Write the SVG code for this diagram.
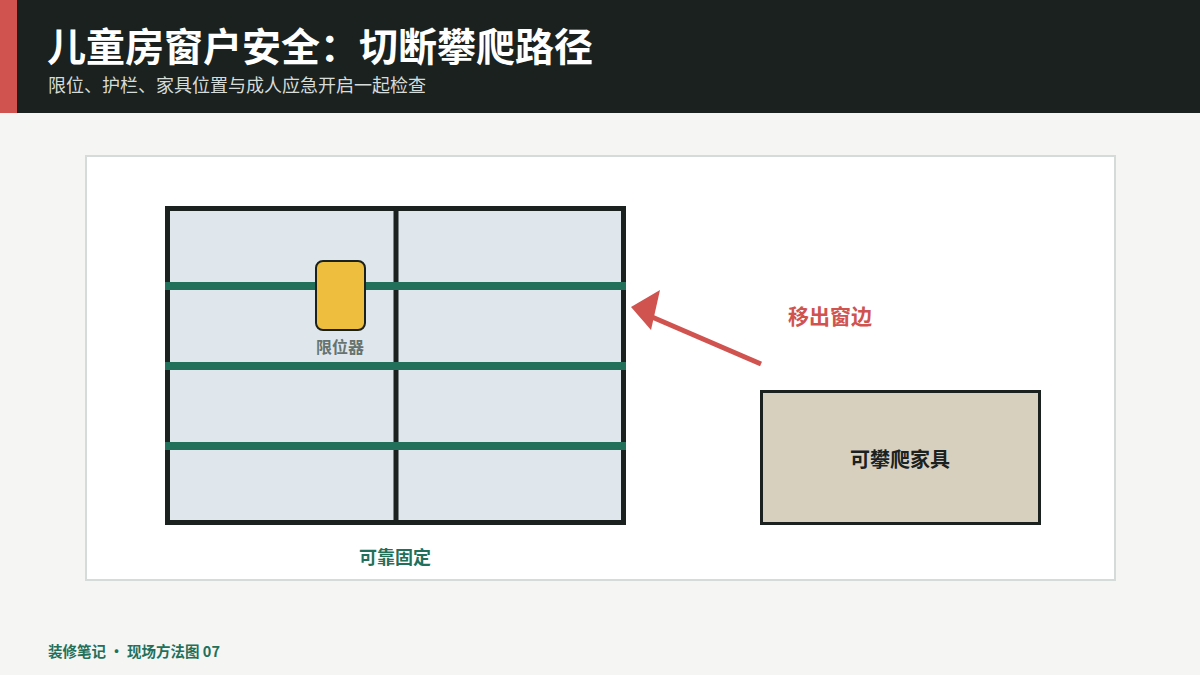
<svg xmlns="http://www.w3.org/2000/svg" width="1200" height="675" viewBox="0 0 1200 675">
<style>
.cjk{font-family:"Noto Sans CJK SC","Noto Sans",sans-serif;}
.b{font-weight:700;}
.bar{fill:#23705a;}
</style>
<rect width="1200" height="675" fill="#f5f5f3"/>
<g id="header">
<rect x="0" y="0" width="1200" height="113" fill="#1a211f"/>
<rect x="0" y="0" width="17" height="113" fill="#d0534f"/>
<text x="47" y="61" class="cjk b" font-size="39" fill="#ffffff">儿童房窗户安全：切断攀爬路径</text>
<text x="48" y="92" class="cjk" font-size="18" fill="#d6dcd9">限位、护栏、家具位置与成人应急开启一起检查</text>
</g>
<rect x="86" y="156" width="1029" height="424" fill="#ffffff" stroke="#d5dbd8" stroke-width="2"/>
<g id="window">
<rect x="167.5" y="208.5" width="456" height="314" fill="#dfe7ed" stroke="#1a211f" stroke-width="5"/>
<line x1="396" y1="208" x2="396" y2="523" stroke="#1a211f" stroke-width="5"/>
<rect class="bar" x="165" y="282" width="461" height="8"/>
<rect class="bar" x="165" y="362" width="461" height="8"/>
<rect class="bar" x="165" y="442" width="461" height="8"/>
<text x="395" y="564" class="cjk b" font-size="18" fill="#23705a" text-anchor="middle">可靠固定</text>
</g>
<g id="limiter">
<rect x="316" y="261" width="49" height="69" rx="7" fill="#eebe3e" stroke="#1a211f" stroke-width="2"/>
<text x="340" y="353" class="cjk b" font-size="16" fill="#66736e" text-anchor="middle">限位器</text>
</g>
<g id="furniture">
<rect x="761.5" y="391.5" width="278" height="132" fill="#d7d0bf" stroke="#1a211f" stroke-width="3"/>
<text x="900" y="467" class="cjk b" font-size="20" fill="#1a211f" text-anchor="middle">可攀爬家具</text>
</g>
<g id="connectors">
<line x1="761" y1="364" x2="652" y2="317" stroke="#d0534f" stroke-width="5"/>
<polygon points="631,307 660,290 651,330" fill="#d0534f"/>
<text x="788" y="324" class="cjk b" font-size="21" fill="#d0534f">移出窗边</text>
</g>
<text x="48" y="657" class="cjk b" font-size="14.5" fill="#23705a">装修笔记 · 现场方法图 07</text>
</svg>
